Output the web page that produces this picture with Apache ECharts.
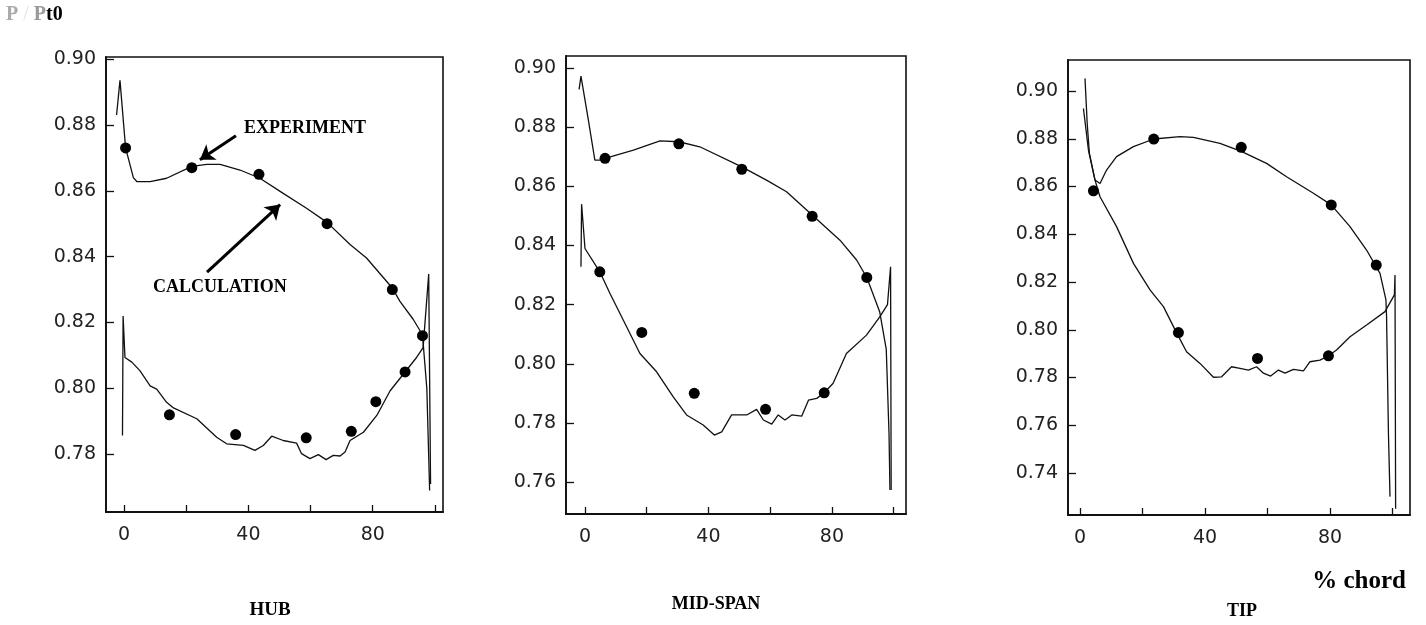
<!DOCTYPE html>
<html>
<head>
<meta charset="utf-8">
<script src="https://cdn.jsdelivr.net/npm/echarts@6/dist/echarts.min.js"></script>
<style>
html,body{margin:0;padding:0;background:#fff;}
#chart{width:1426px;height:625px;}
</style>
</head>
<body>
<div id="chart"></div>
<script>
// ---------- DATA ----------
const xTickValues = [0, 20, 40, 60, 80, 100];
const xLabelValues = [0, 40, 80];
const hubYTicks = [0.78, 0.80, 0.82, 0.84, 0.86, 0.88, 0.90];
const midYTicks = [0.76, 0.78, 0.80, 0.82, 0.84, 0.86, 0.88, 0.90];
const tipYTicks = [0.74, 0.76, 0.78, 0.80, 0.82, 0.84, 0.86, 0.88, 0.90];
const panelTitles = ['HUB', 'MID-SPAN', 'TIP'];

// HUB
const hubExperiment = [[0.5,0.873],[21.8,0.867],[43.4,0.865],[65.3,0.850],[86.3,0.830],[96.0,0.816],
  [14.6,0.792],[35.9,0.786],[58.6,0.785],[73.1,0.787],[81.0,0.796],[90.4,0.805]];
const hubCalcUpper = [[-2.4,0.883],[-1.3,0.8935],[0.5,0.873],[3.0,0.864],[4.1,0.8628],[8.4,0.8628],
  [13.7,0.8638],[21.8,0.8674],[26.6,0.868],[30.9,0.868],[37.3,0.8663],[43.7,0.8638],[51.2,0.8592],
  [58.7,0.8547],[65.3,0.8504],[72.7,0.8437],[78.0,0.8396],[86.3,0.8305],[88.7,0.8265],[93.0,0.821],
  [94.6,0.8185],[96.0,0.8163],[97.4,0.800],[98.3,0.769]];
const hubCalcLower = [[-0.5,0.7857],[-0.3,0.822],[0.3,0.8094],[2.5,0.808],[5.1,0.8054],[8.4,0.8008],
  [10.5,0.7998],[13.7,0.7958],[15.9,0.7941],[23.4,0.7908],[29.8,0.7852],[33.0,0.7832],[38.4,0.7827],
  [42.1,0.7812],[44.8,0.7827],[47.5,0.7855],[51.2,0.7842],[55.5,0.7834],[57.1,0.7802],[59.8,0.7787],
  [62.5,0.7799],[65.0,0.7784],[67.3,0.7797],[69.5,0.7795],[71.1,0.7807],[72.7,0.7842],[77.0,0.7867],
  [81.3,0.7918],[85.6,0.7993],[90.4,0.805],[94.1,0.8094],[96.2,0.8124],[98.0,0.8347],[98.6,0.771]];
const hubArrowExperiment = [[36.0,0.8767],[24.4,0.8694]];
const hubArrowCalculation = [[26.7,0.8353],[50.2,0.8558]];

// MID-SPAN
const midExperiment = [[6.5,0.8695],[30.4,0.8744],[50.8,0.8658],[73.6,0.8499],[91.3,0.8292],
  [4.8,0.8311],[18.4,0.8106],[35.4,0.790],[58.5,0.7846],[77.5,0.7902]];
const midCalcUpper = [[-1.9,0.8928],[-1.3,0.8973],[1.1,0.8824],[3.2,0.8689],[4.9,0.8689],[6.5,0.8695],
  [15.7,0.8723],[24.3,0.8754],[30.4,0.8751],[37.2,0.8734],[50.8,0.8666],[58.8,0.8621],[65.3,0.8582],
  [73.6,0.8503],[82.6,0.8418],[88.0,0.8351],[91.3,0.8292],[95.5,0.8175],[97.6,0.805],[98.5,0.7765],
  [98.8,0.7573]];
const midCalcLower = [[-1.3,0.8328],[-1.1,0.854],[0.0,0.839],[4.8,0.8311],[8.1,0.8238],[11.3,0.8171],
  [17.8,0.8035],[23.2,0.7973],[28.6,0.7888],[32.9,0.7827],[38.3,0.7793],[41.9,0.7759],[44.3,0.777],
  [47.5,0.7827],[52.4,0.7827],[55.6,0.7846],[57.8,0.781],[60.5,0.7796],[62.6,0.7827],[64.8,0.781],
  [67.0,0.7827],[70.2,0.7823],[72.4,0.7877],[75.1,0.7883],[77.5,0.7902],[80.4,0.7934],[84.7,0.8035],
  [91.2,0.8097],[95.5,0.8159],[98.0,0.820],[99.0,0.8328],[99.2,0.7573]];

// TIP
const tipExperiment = [[4.3,0.8582],[23.6,0.8799],[51.6,0.8764],[80.4,0.8523],[94.8,0.8271],
  [31.5,0.7988],[56.8,0.788],[79.5,0.7891]];
const tipCalcLower = [[1.6,0.9053],[2.3,0.8865],[3.0,0.8739],[4.8,0.8627],[6.4,0.8557],[11.7,0.8432],
  [17.1,0.8278],[22.4,0.8167],[26.7,0.8097],[31.0,0.7985],[34.1,0.7908],[38.4,0.7859],[42.7,0.7801],
  [45.3,0.7803],[48.5,0.7845],[51.2,0.7838],[53.9,0.7831],[56.5,0.7845],[58.7,0.7818],[61.0,0.7806],
  [63.5,0.7831],[65.6,0.7818],[68.3,0.7834],[71.5,0.7828],[73.6,0.7866],[76.8,0.7873],[79.5,0.7891],
  [82.1,0.7915],[86.4,0.7971],[91.7,0.802],[97.6,0.8076],[100.6,0.8146],[100.8,0.8229],[101.0,0.7250]];
const tipCalcUpper = [[1.1,0.8927],[2.7,0.8753],[4.8,0.8627],[6.4,0.8613],[8.5,0.8669],[11.7,0.8725],
  [17.1,0.8767],[23.6,0.8799],[32.0,0.8809],[36.3,0.8806],[44.8,0.8781],[51.6,0.8747],[59.7,0.8697],
  [66.1,0.8641],[74.7,0.8572],[80.4,0.8523],[86.4,0.8432],[91.7,0.8334],[96.0,0.8236],[97.9,0.8125],
  [98.1,0.8055],[98.7,0.7566],[99.2,0.7301]];

// ---------- CHART ----------
const chart = echarts.init(document.getElementById('chart'), null, {renderer: 'canvas'});
const INK = '#111';
const tickFont = {fontFamily: 'DejaVu Sans', fontSize: 19, color: '#222'};

const grids = [
  {left: 106, top: 57, width: 337, height: 455},
  {left: 566, top: 56, width: 340, height: 458},
  {left: 1068, top: 60, width: 342, height: 455}
];
const xRanges = [[-5.8, 102.6], [-6.15, 104.0], [-3.84, 105.6]];
const yRanges = [[0.7625, 0.9006], [0.7492, 0.9041], [0.7224, 0.913]];
const yTicks = [hubYTicks, midYTicks, tipYTicks];

function xAxis(i) {
  return {
    type: 'value', gridIndex: i, min: xRanges[i][0], max: xRanges[i][1],
    axisLine: {show: true, onZero: false, lineStyle: {color: INK, width: 1.8}},
    axisTick: {show: true, inside: true, length: 7, customValues: xTickValues, lineStyle: {color: INK, width: 1.3}},
    axisLabel: {show: true, customValues: xLabelValues, margin: 14, ...tickFont},
    splitLine: {show: false}
  };
}
function yAxis(i) {
  return {
    type: 'value', gridIndex: i, min: yRanges[i][0], max: yRanges[i][1],
    axisLine: {show: true, onZero: false, lineStyle: {color: INK, width: 1.8}},
    axisTick: {show: true, inside: true, length: 8, customValues: yTicks[i], lineStyle: {color: INK, width: 1.3}},
    axisLabel: {show: true, customValues: yTicks[i], margin: 10, formatter: v => v.toFixed(2), ...tickFont},
    splitLine: {show: false}
  };
}
function calcLine(i, data, extra) {
  return Object.assign({
    type: 'line', xAxisIndex: i, yAxisIndex: i, data: data, showSymbol: false, symbol: 'none',
    smooth: false, lineStyle: {color: INK, width: 1.3}, silent: true, animation: false, z: 3
  }, extra || {});
}
function expPoints(i, data) {
  return {
    type: 'scatter', xAxisIndex: i, yAxisIndex: i, data: data, symbol: 'circle', symbolSize: 11,
    itemStyle: {color: '#000', opacity: 1}, silent: true, animation: false, z: 5
  };
}
function arrowLine(pair) {
  return [{coord: pair[0]}, {coord: pair[1]}];
}

const serif = 'Liberation Serif';
const option = {
  backgroundColor: '#fff',
  animation: false,
  grid: grids.map(g => Object.assign({show: true, borderColor: INK, borderWidth: 1.6, backgroundColor: 'transparent'}, g)),
  xAxis: [0, 1, 2].map(xAxis),
  yAxis: [0, 1, 2].map(yAxis),
  series: [
    calcLine(0, hubCalcUpper, {
      markLine: {
        silent: true, animation: false,
        symbol: ['none', 'arrow'], symbolSize: 14,
        lineStyle: {color: '#000', width: 3, type: 'solid', opacity: 1},
        label: {show: false},
        data: [arrowLine(hubArrowExperiment), arrowLine(hubArrowCalculation)]
      }
    }),
    calcLine(0, hubCalcLower),
    expPoints(0, hubExperiment),
    calcLine(1, midCalcUpper),
    calcLine(1, midCalcLower),
    expPoints(1, midExperiment),
    calcLine(2, tipCalcUpper),
    calcLine(2, tipCalcLower),
    expPoints(2, tipExperiment)
  ],
  graphic: [
    {type: 'text', left: 6, top: 5, style: {
      text: '{a|P}{s| / }{b|P}{c|t0}',
      rich: {
        a: {fontFamily: serif, fontWeight: 'bold', fontSize: 20, fill: '#aaa'},
        s: {fontFamily: serif, fontWeight: 'normal', fontSize: 20, fill: '#e4e4e4'},
        b: {fontFamily: serif, fontWeight: 'bold', fontSize: 20, fill: '#999'},
        c: {fontFamily: serif, fontWeight: 'bold', fontSize: 20, fill: '#000'}
      }
    }},
    {type: 'text', left: 244, top: 119, style: {text: 'EXPERIMENT', fontFamily: serif, fontWeight: 'bold', fontSize: 18, fill: '#000'}},
    {type: 'text', left: 153, top: 278, style: {text: 'CALCULATION', fontFamily: serif, fontWeight: 'bold', fontSize: 18, fill: '#000'}},
    {type: 'text', x: 270, y: 610, style: {text: panelTitles[0], fontFamily: serif, fontWeight: 'bold', fontSize: 19, fill: '#000', align: 'center', verticalAlign: 'middle'}},
    {type: 'text', x: 716, y: 604, style: {text: panelTitles[1], fontFamily: serif, fontWeight: 'bold', fontSize: 18, fill: '#000', align: 'center', verticalAlign: 'middle'}},
    {type: 'text', x: 1242, y: 611, style: {text: panelTitles[2], fontFamily: serif, fontWeight: 'bold', fontSize: 18, fill: '#000', align: 'center', verticalAlign: 'middle'}},
    {type: 'text', x: 1406, y: 582, style: {text: '% chord', fontFamily: serif, fontWeight: 'bold', fontSize: 25, fill: '#000', align: 'right', verticalAlign: 'middle'}}
  ]
};
chart.setOption(option);
</script>
</body>
</html>
